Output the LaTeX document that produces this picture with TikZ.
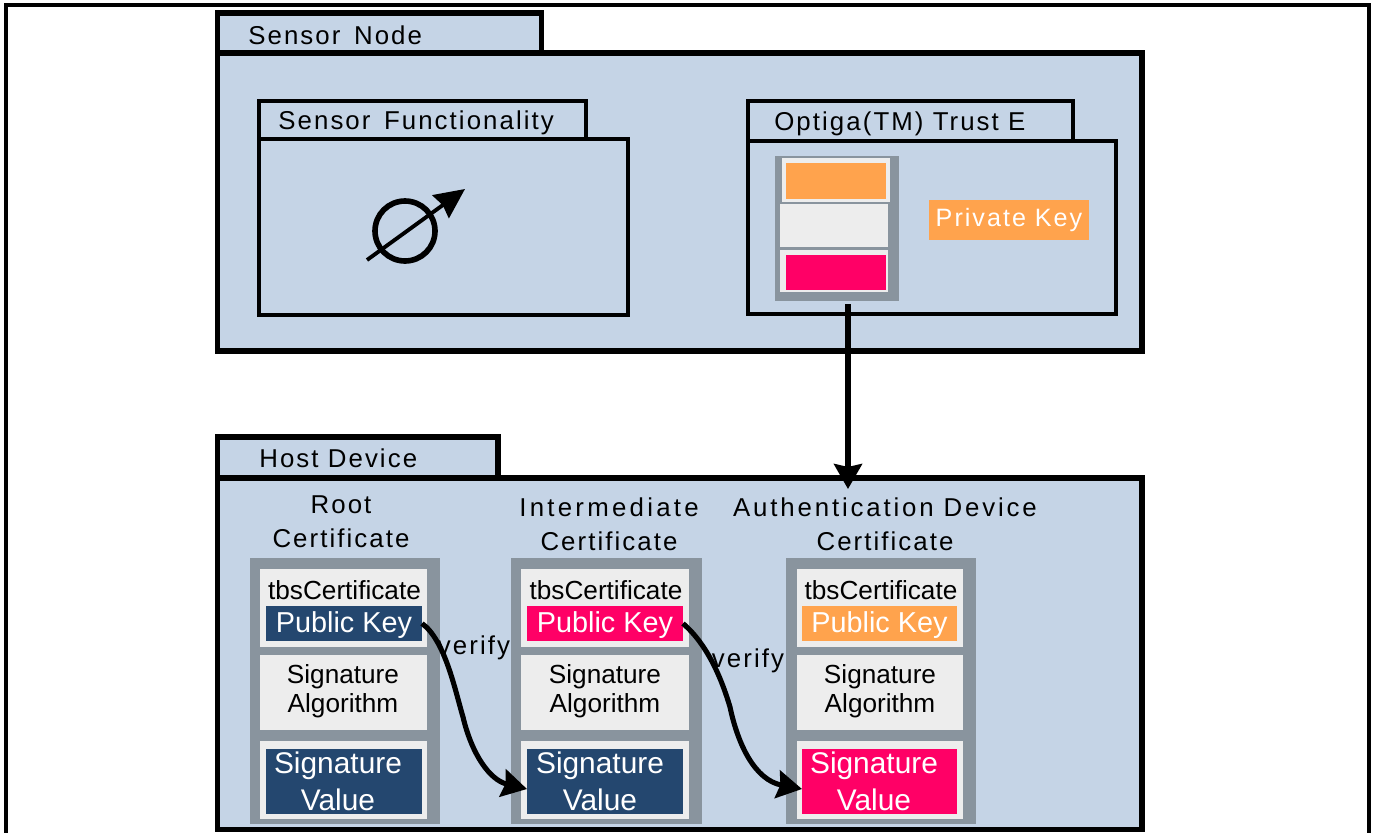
\documentclass[tikz,border=0pt]{standalone}
\usepackage{fontspec}
\setmainfont{Liberation Sans}
\newfontfamily\spacedfont[LetterSpace=8]{Liberation Sans}
\usetikzlibrary{arrows.meta}

\definecolor{panelblue}{HTML}{C5D4E6}
\definecolor{certgray}{HTML}{89949E}
\definecolor{cellgray}{HTML}{EDEDED}
\definecolor{keyorange}{HTML}{FFA34D}
\definecolor{keypink}{HTML}{FF0066}
\definecolor{keynavy}{HTML}{24476F}

\tikzset{
    wh/.style 2 args={minimum width=#1*0.02cm,minimum height=#2*0.02cm},
    block/.style={anchor=north west,inner sep=0pt,outer sep=0pt},
    heavypanel/.style={block,draw=black,fill=panelblue,line width=3.1pt},
    panel/.style={block,draw=black,fill=panelblue,line width=2.6pt},
    certbox/.style={block,fill=certgray},
    cellbox/.style={block,fill=cellgray},
    keybox/.style={block,text=white,text height=14pt,text depth=3.4pt,font=\fontsize{16.4}{18}\selectfont},
    title/.style={anchor=west,inner sep=0pt,font=\spacedfont\fontsize{14.7}{19.3}\selectfont},
    certname/.style={inner sep=0pt,align=center,font=\spacedfont\fontsize{14.7}{19.3}\selectfont},
    fieldname/.style={inner sep=0pt,align=center,font=\fontsize{14.9}{16.4}\selectfont},
    sigvalue/.style={inner sep=0pt,align=center,text=white,font=\fontsize{17}{21}\selectfont},
    flow/.style={draw=black,line width=2.9pt,-{Stealth[length=0.5cm,width=0.56cm,inset=0.06cm]}},
}

\begin{document}
\begin{tikzpicture}[x=0.02cm,y=-0.02cm]
    \useasboundingbox (0,0) rectangle (1375,832);
    \node[block,draw=black,line width=2.3pt,wh={1363}{860}] (frame) at (6,5) {};

%sensor node
    \node[heavypanel,wh={324}{40}] (sensortab) at (217.5,13) {};
    \node[heavypanel,wh={924.5}{298}] (sensor) at (217.5,53) {};
    \node[title] (sensorname) at (248,35) {Sensor \,Node};

%sensor functionality
    \node[panel,wh={327}{38}] (functab) at (259,101) {};
    \node[panel,wh={369}{176}] (func) at (259,139) {};
    \node[title] (funcname) at (278,123) {Sensor \,Functionality};
    \node[draw=black,line width=3.2pt,circle,inner sep=0pt,minimum size=60*0.02cm] (gauge) at (405,231) {};
    \coordinate (gaugein) at (367,260);
    \coordinate (gaugeout) at (465,189);
    \draw[line width=2.2pt,-{Stealth[length=0.6cm,width=0.56cm,inset=0.05cm]}] (gaugein) -- (gaugeout);

%optiga
    \node[panel,wh={325}{40}] (optigatab) at (748,101) {};
    \node[panel,wh={368}{173}] (optiga) at (748,141) {};
    \node[title] (optiganame) at (774,124) {Optiga(TM) Trust E};
    \node[certbox,wh={124}{145}] (hsm) at (775,156) {};
    \node[cellbox,wh={108}{44}] (hsmtop) at (782,158) {};
    \node[block,fill=keyorange,wh={100}{36}] (hsmkey) at (786,163) {};
    \node[cellbox,wh={108}{43}] (hsmmid) at (780,204) {};
    \node[cellbox,wh={108}{42}] (hsmbot) at (780,250) {};
    \node[block,fill=keypink,wh={100}{35}] (hsmsig) at (786,255) {};
    \node[block,fill=keyorange,text=white,wh={160}{40},font=\spacedfont\fontsize{14.3}{18}\selectfont] (privkey) at (929,200) {Private Key};

%host device
    \node[heavypanel,wh={280.5}{41}] (hosttab) at (217.5,437) {};
    \node[heavypanel,wh={924.5}{351.5}] (host) at (217.5,478) {};
    \node[title] (hostname) at (259,458) {Host Device};

%root
    \node[certname] (rootname) at (341,522) {Root\\Certificate};
    \node[certbox,wh={190}{266}] (rootcert) at (250,558) {};
    \node[cellbox,wh={167}{78}] (roottbs) at (260,569) {};
    \node[fieldname] (roottbstext) at (344.5,590) {tbsCertificate};
    \node[keybox,fill=keynavy,wh={156}{35}] (rootkey) at (266,606) {Public Key};
    \node[cellbox,wh={167}{75}] (rootalg) at (260,655) {};
    \node[fieldname] (rootalgtext) at (343,691) {Signature\\Algorithm};
    \node[cellbox,wh={167}{78}] (rootval) at (260,741) {};
    \node[block,fill=keynavy,wh={156}{65}] (rootsig) at (266,749) {};
    \node[sigvalue] (rootsigtext) at (338,781) {Signature\\Value};

%intermediate
    \node[certname] (intername) at (609,524) {\addfontfeature{LetterSpace=12.6}Intermediate\\Certificate};
    \node[certbox,wh={191}{266}] (intercert) at (511,558) {};
    \node[cellbox,wh={168}{78}] (intertbs) at (521,569) {};
    \node[fieldname] (intertbstext) at (606,590) {tbsCertificate};
    \node[keybox,fill=keypink,wh={156}{35}] (interkey) at (527,606) {Public Key};
    \node[cellbox,wh={168}{75}] (interalg) at (521,655) {};
    \node[fieldname] (interalgtext) at (605,691) {Signature\\Algorithm};
    \node[cellbox,wh={168}{78}] (interval) at (521,741) {};
    \node[block,fill=keynavy,wh={156}{65}] (intersig) at (527,749) {};
    \node[sigvalue] (intersigtext) at (600,781) {Signature\\Value};

%authentication device
    \node[certname] (authname) at (885,524) {\addfontfeature{LetterSpace=11}Authentication Device\\Certificate};
    \node[certbox,wh={190}{266}] (authcert) at (786,558) {};
    \node[cellbox,wh={166}{78}] (authtbs) at (797,569) {};
    \node[fieldname] (authtbstext) at (881,590) {tbsCertificate};
    \node[keybox,fill=keyorange,wh={155}{35}] (authkey) at (802,606) {Public Key};
    \node[cellbox,wh={166}{75}] (authalg) at (797,655) {};
    \node[fieldname] (authalgtext) at (880,691) {Signature\\Algorithm};
    \node[cellbox,wh={166}{78}] (authval) at (797,741) {};
    \node[block,fill=keypink,wh={155}{65}] (authsig) at (802,749) {};
    \node[sigvalue] (authsigtext) at (874,781) {Signature\\Value};

%connectors
    \coordinate (hsmout) at ([xshift=0.22cm,yshift=-0.06cm]hsm.south);
    \draw[flow] (hsmout) -- ([yshift=-0.22cm]hsmout |- host.north);
    \node[certname] (rootverify) at (474,648) {verify};
    \node[certname] (interverify) at (748,661) {verify};
    \draw[flow] (rootkey.east) .. controls (445,640) and (455,690) .. (463,717) .. controls (472,755) and (490,780) .. ([yshift=-0.15cm]intersig.west);
    \draw[flow] (interkey.east) .. controls (708,645) and (722,680) .. (730,707) .. controls (738,745) and (755,780) .. ([yshift=-0.15cm]authsig.west);
\end{tikzpicture}
\end{document}
